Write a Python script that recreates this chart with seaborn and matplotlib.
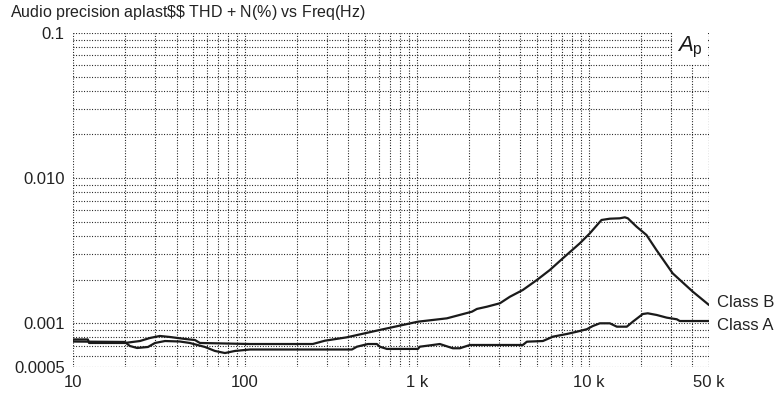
import numpy as np
import pandas as pd
import matplotlib
matplotlib.use('Agg')
import matplotlib.pyplot as plt
import matplotlib.transforms as mtransforms
import seaborn as sns

sns.set_style('white')
plt.rcParams['font.family'] = ['Liberation Sans', 'DejaVu Sans']
plt.rcParams['mathtext.fontset'] = 'custom'
plt.rcParams['mathtext.rm'] = 'Liberation Sans'
plt.rcParams['mathtext.it'] = 'Liberation Sans:italic'

# Class B: THD+N (%) vs frequency (Hz)
freq_b = [10, 12.2, 12.4, 20, 24.5, 28, 32, 36.6, 44.8, 51.2, 54.7, 107, 248, 270,
          292, 392, 609, 1014, 1494, 2089, 2234, 2553, 3040, 3475, 4130, 4988,
          5933, 7063, 8867, 10140, 11850, 13250, 15140, 16190, 16860, 18940,
          21640, 24730, 30750, 40270, 50000]
thd_b = [0.000774, 0.000774, 0.000732, 0.000732, 0.000755, 0.000792, 0.000818,
         0.000805, 0.000780, 0.000767, 0.000732, 0.000720, 0.000720, 0.000740,
         0.000759, 0.000801, 0.000900, 0.001026, 0.001082, 0.001202, 0.001256,
         0.001301, 0.001374, 0.001524, 0.001696, 0.001988, 0.002329, 0.002805,
         0.003558, 0.004169, 0.005150, 0.005256, 0.005289, 0.005375, 0.005289,
         0.004634, 0.004060, 0.003199, 0.002209, 0.001651, 0.001337]

# Class A: THD+N (%) vs frequency (Hz)
freq_a = [10, 20, 21.4, 23.6, 27.3, 30, 34.3, 41.9, 47.8, 58.5, 66.9, 76.5, 87.5,
          100, 107, 419, 448, 519, 585, 609, 669, 1014, 1040, 1238, 1360, 1618,
          1778, 2032, 4130, 4363, 5405, 6180, 7447, 8511, 9727, 10550, 11590,
          13250, 14550, 16630, 18030, 20610, 22020, 24830, 28380, 32480, 33810,
          50000]
thd_a = [0.000749, 0.000744, 0.000698, 0.000676, 0.000687, 0.000732, 0.000755,
         0.000749, 0.000732, 0.000687, 0.000645, 0.000624, 0.000645, 0.000655,
         0.000660, 0.000660, 0.000690, 0.000720, 0.000720, 0.000690, 0.000666,
         0.000666, 0.000690, 0.000709, 0.000720, 0.000673, 0.000673, 0.000709,
         0.000709, 0.000747, 0.000755, 0.000809, 0.000844, 0.000875, 0.000910,
         0.000958, 0.001000, 0.001000, 0.000948, 0.000948, 0.001026, 0.001159,
         0.001172, 0.001141, 0.001094, 0.001066, 0.001037, 0.001037]

x_ticks = [10, 100, 1000, 10000, 50000]
x_labels = ['10', '100', '1 k', '10 k', '50 k']
y_ticks = [0.0005, 0.001, 0.01, 0.1]
y_labels = ['0.0005', '0.001', '0.010', '0.1']

df = pd.concat([
    pd.DataFrame({'freq': freq_b, 'thd': thd_b, 'cls': 'Class B'}),
    pd.DataFrame({'freq': freq_a, 'thd': thd_a, 'cls': 'Class A'}),
])

fig = plt.figure(figsize=(7.8, 3.95), dpi=100)
ax = fig.add_axes([73 / 780, 1 - 367 / 395, (709 - 73) / 780, (367 - 33) / 395])

for cls in ['Class B', 'Class A']:
    sub = df[df['cls'] == cls]
    sns.lineplot(data=sub, x='freq', y='thd', ax=ax, color='#1a1a1a',
                 linewidth=1.6, estimator=None, sort=False, legend=False)

ax.set_xscale('log')
ax.set_yscale('log')
ax.set_xlim(10, 50000)
ax.set_ylim(0.0005, 0.1)

# dotted grid at every 1..9 step of each decade
dots = (0, (0.8, 1.6))
xg = [m * 10 ** e for e in range(1, 5) for m in range(1, 10) if m * 10 ** e <= 50000]
yg = [m * 10.0 ** e for e in range(-4, -1) for m in range(1, 10)
      if 0.0005 <= m * 10.0 ** e <= 0.1] + [0.1]
for v in xg:
    ax.axvline(v, color='black', linestyle=dots, linewidth=0.8, zorder=0)
for v in yg:
    ax.axhline(v, color='black', linestyle=dots, linewidth=0.8, zorder=0)
ax.axvline(50000, color='black', linestyle=dots, linewidth=0.8, zorder=0)

ax.set_xticks(x_ticks)
ax.set_xticklabels(x_labels)
ax.set_yticks(y_ticks)
ax.set_yticklabels(y_labels)
ax.xaxis.set_minor_locator(matplotlib.ticker.NullLocator())
ax.yaxis.set_minor_locator(matplotlib.ticker.NullLocator())
ax.tick_params(axis='both', length=0, labelsize=12, colors='#222222')
ax.tick_params(axis='y', pad=6)
ax.tick_params(axis='x', pad=6)
ax.set_xlabel('')
ax.set_ylabel('')
for s in ax.spines.values():
    s.set_visible(False)

ax.text(0.99, 0.995, r'$\mathit{A}_\mathrm{p}$', transform=ax.transAxes,
        ha='right', va='top', fontsize=16, color='#1a1a1a',
        bbox=dict(facecolor='white', edgecolor='none', pad=3))

trans = mtransforms.blended_transform_factory(ax.transAxes, ax.transData)
ax.text(1.012, 0.00139, 'Class B', transform=trans, ha='left', va='center',
        fontsize=12, color='#222222', clip_on=False)
ax.text(1.012, 0.00096, 'Class A', transform=trans, ha='left', va='center',
        fontsize=12, color='#222222', clip_on=False)

fig.text(10 / 780, 1 - 13 / 395, 'Audio precision aplast\\$\\$ THD $+$ N(%) vs Freq(Hz)',
         ha='left', va='center', fontsize=11.5, color='#222222')

plt.savefig('out.png', dpi=100)
plt.close()
